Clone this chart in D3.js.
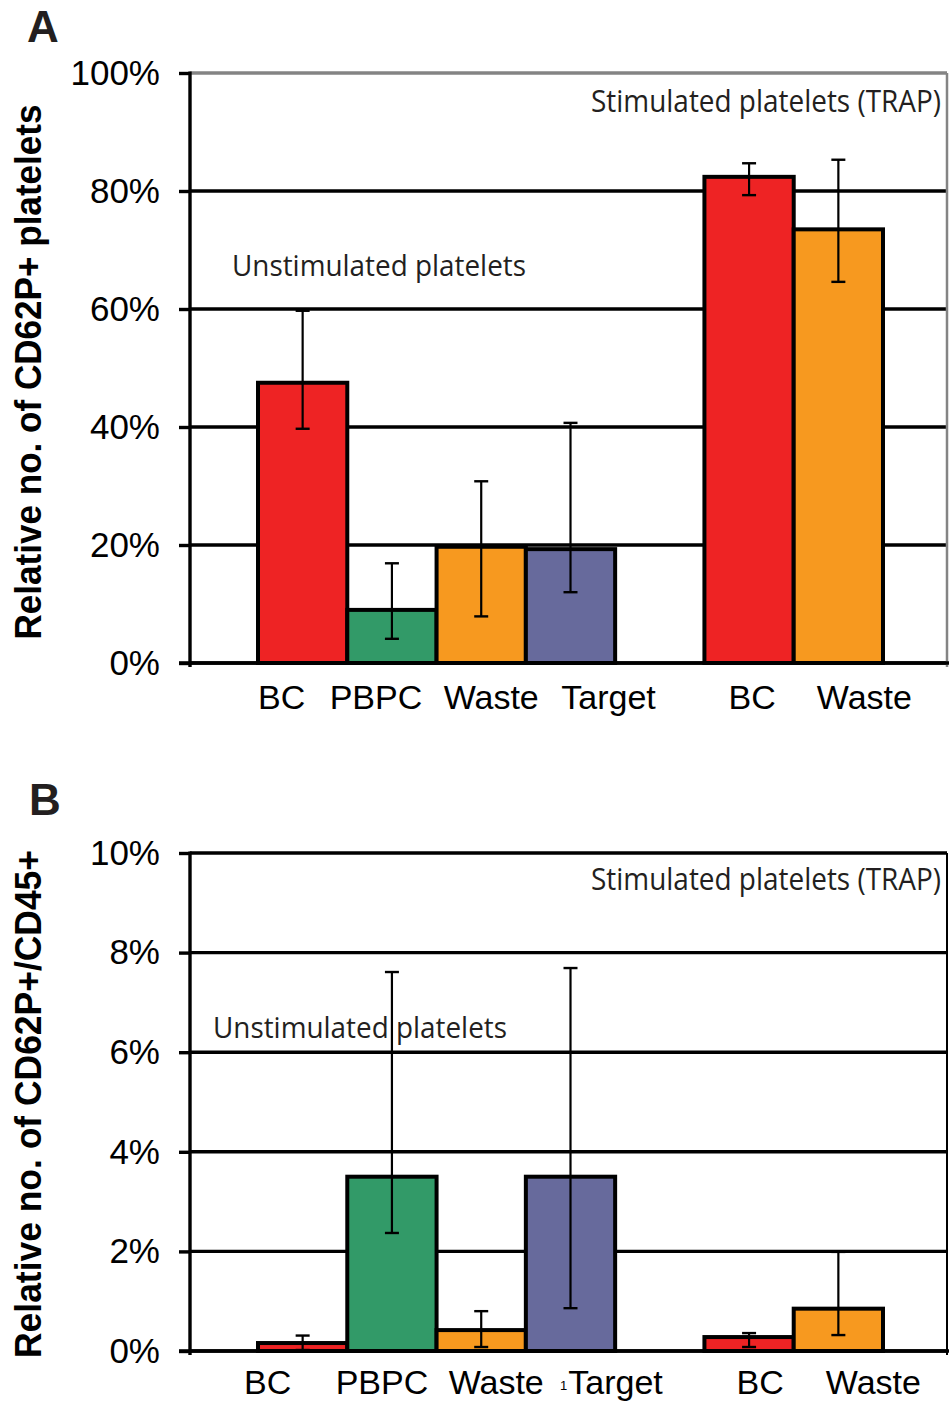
<!DOCTYPE html>
<html>
<head>
<meta charset="utf-8">
<script src="https://cdn.jsdelivr.net/npm/d3@7/dist/d3.min.js"></script>
<style>
  body { margin: 0; background: #fff; }
  svg { display: block; }
</style>
</head>
<body>
<svg id="fig" width="949" height="1402"></svg>
<script>
// Bars, left to right: four unstimulated samples, then two TRAP-stimulated
var categories = ["BC", "PBPC", "Waste", "Target", "BC", "Waste"];

// Panel A: CD62P+ platelets (%)
var valuesA = [47.5, 9.0, 19.7, 19.3, 82.4, 73.5];
var lowA    = [39.7, 4.1, 7.9, 12.0, 79.3, 64.6];
var highA   = [59.7, 16.9, 30.8, 40.7, 84.7, 85.3];
var ticksA  = [0, 20, 40, 60, 80, 100];

// Panel B: CD62P+/CD45+ (%)
var valuesB = [0.16, 3.5, 0.42, 3.5, 0.28, 0.85];
var lowB    = [0.02, 2.37, 0.08, 0.86, 0.08, 0.32];
var highB   = [0.31, 7.61, 0.80, 7.69, 0.36, 1.99];
var ticksB  = [0, 2, 4, 6, 8, 10];

var colorOf = {BC: "#ee2324", PBPC: "#329a68", Waste: "#f7991f", Target: "#676a9c"};

var svg = d3.select("#fig");

// 7 slots, slot 4 is left empty between the two groups
var slotOf = [0, 1, 2, 3, 5, 6];
var xScale = d3.scaleBand()
    .domain(d3.range(7))
    .range([258, 883])
    .paddingInner(0);

var axisX = 190, plotRight = 947;

function drawPanel(p) {
    var g = svg.append("g");
    var yScale = d3.scaleLinear().domain([0, p.max]).range([p.y0, p.y1]);

    var rows = categories.map(function(c, i) {
        return {cat: c, slot: slotOf[i], v: p.values[i], lo: p.low[i], hi: p.high[i], shift: p.labelShift[i]};
    });

    // gridlines (top one may be grey)
    g.selectAll(".grid")
        .data(p.ticks)
        .enter().append("line")
        .attr("x1", axisX).attr("x2", plotRight)
        .attr("y1", d => yScale(d)).attr("y2", d => yScale(d))
        .attr("stroke", d => d === p.max ? p.topColor : "#000")
        .attr("stroke-width", 3.4);

    // right border
    g.append("line")
        .attr("x1", plotRight).attr("x2", plotRight)
        .attr("y1", yScale(p.max)).attr("y2", yScale(0) + 4)
        .attr("stroke", p.rightColor)
        .attr("stroke-width", p.rightWidth);

    // annotations
    g.append("text")
        .attr("x", p.unstim[0]).attr("y", p.unstim[1])
        .attr("font-family", "'Open Sans', 'Noto Sans', sans-serif")
        .attr("font-size", 30)
        .attr("fill", "#231f20")
        .attr("textLength", 294).attr("lengthAdjust", "spacingAndGlyphs")
        .text("Unstimulated platelets");

    g.append("text")
        .attr("x", p.stim[0]).attr("y", p.stim[1])
        .attr("text-anchor", "end")
        .attr("font-family", "'Open Sans', 'Noto Sans', sans-serif")
        .attr("font-size", 31)
        .attr("fill", "#231f20")
        .attr("textLength", 350).attr("lengthAdjust", "spacingAndGlyphs")
        .text("Stimulated platelets (TRAP)");

    // bars
    g.selectAll(".bar")
        .data(rows)
        .enter().append("rect")
        .attr("class", "bar")
        .attr("x", d => xScale(d.slot))
        .attr("width", xScale.bandwidth())
        .attr("y", d => yScale(d.v))
        .attr("height", d => yScale(0) - yScale(d.v))
        .attr("fill", d => colorOf[d.cat])
        .attr("stroke", "#000")
        .attr("stroke-width", 4);

    // error bars
    var err = g.selectAll(".err")
        .data(rows)
        .enter().append("g")
        .attr("class", "err")
        .attr("transform", d => "translate(" + (xScale(d.slot) + xScale.bandwidth() / 2) + ",0)");

    err.append("line")
        .attr("y1", d => yScale(d.lo)).attr("y2", d => yScale(d.hi))
        .attr("stroke", "#000").attr("stroke-width", 2.2);
    err.append("line")
        .attr("x1", -7).attr("x2", 7)
        .attr("y1", d => yScale(d.hi)).attr("y2", d => yScale(d.hi))
        .attr("stroke", "#000").attr("stroke-width", 2.4);
    err.append("line")
        .attr("x1", -7).attr("x2", 7)
        .attr("y1", d => yScale(d.lo)).attr("y2", d => yScale(d.lo))
        .attr("stroke", "#000").attr("stroke-width", 2.4);

    // y axis
    var yAxis = g.append("g")
        .attr("transform", "translate(" + axisX + ",0)")
        .call(d3.axisLeft(yScale)
            .tickValues(p.ticks)
            .tickFormat(d => d + "%")
            .tickSize(11)
            .tickSizeOuter(0)
            .tickPadding(19));
    yAxis.select(".domain").remove();
    yAxis.selectAll(".tick line").attr("stroke", "#000").attr("stroke-width", 3.4);
    yAxis.selectAll(".tick text")
        .attr("font-family", "'Liberation Sans', Arial, sans-serif")
        .attr("font-size", 35)
        .attr("fill", "#000");

    g.append("line")
        .attr("x1", axisX).attr("x2", axisX)
        .attr("y1", yScale(p.max) - 1.5).attr("y2", yScale(0) + 4)
        .attr("stroke", "#000").attr("stroke-width", 3.4);

    // baseline on top of bars
    g.append("line")
        .attr("x1", axisX - 11).attr("x2", 949)
        .attr("y1", yScale(0)).attr("y2", yScale(0))
        .attr("stroke", "#000").attr("stroke-width", 3.4);

    // category labels
    g.selectAll(".xlab")
        .data(rows)
        .enter().append("text")
        .attr("class", "xlab")
        .attr("x", d => xScale(d.slot) + xScale.bandwidth() / 2 + d.shift)
        .attr("y", p.labelY)
        .attr("text-anchor", "middle")
        .attr("font-family", "'Liberation Sans', Arial, sans-serif")
        .attr("font-size", 34)
        .attr("fill", "#000")
        .text(d => d.cat);

    // y axis title
    g.append("text")
        .attr("transform", "translate(41," + p.titleMid + ") rotate(-90)")
        .attr("text-anchor", "middle")
        .attr("font-family", "'Liberation Sans', Arial, sans-serif")
        .attr("font-weight", "bold")
        .attr("font-size", 36)
        .attr("fill", "#000")
        .attr("textLength", p.titleLen).attr("lengthAdjust", "spacingAndGlyphs")
        .text(p.title);

    // panel letter
    g.append("text")
        .attr("x", p.letterPos[0]).attr("y", p.letterPos[1])
        .attr("font-family", "'Liberation Sans', Arial, sans-serif")
        .attr("font-weight", "bold")
        .attr("font-size", 44)
        .attr("fill", "#231f20")
        .text(p.letter);

    return g;
}

drawPanel({
    letter: "A", letterPos: [27, 42],
    max: 100, y0: 663, y1: 73,
    ticks: ticksA, values: valuesA, low: lowA, high: highA,
    topColor: "#848484", rightColor: "#848484", rightWidth: 2.5,
    unstim: [232, 276], stim: [941, 112],
    labelY: 709, labelShift: [-21, -16, 10, 38, 3, 26],
    title: "Relative no. of CD62P+ platelets", titleMid: 372, titleLen: 535
});

var gB = drawPanel({
    letter: "B", letterPos: [29, 815],
    max: 10, y0: 1351, y1: 853,
    ticks: ticksB, values: valuesB, low: lowB, high: highB,
    topColor: "#000", rightColor: "#000", rightWidth: 2,
    unstim: [213, 1038], stim: [941, 890],
    labelY: 1394, labelShift: [-35, -10, 15, 45, 11, 35],
    title: "Relative no. of CD62P+/CD45+", titleMid: 1104, titleLen: 508
});

// stray small "1" in front of the Target label of panel B
gB.append("text")
    .attr("x", 560).attr("y", 1390)
    .attr("font-family", "'Liberation Sans', Arial, sans-serif")
    .attr("font-size", 13)
    .attr("fill", "#000")
    .text("1");
</script>
</body>
</html>
